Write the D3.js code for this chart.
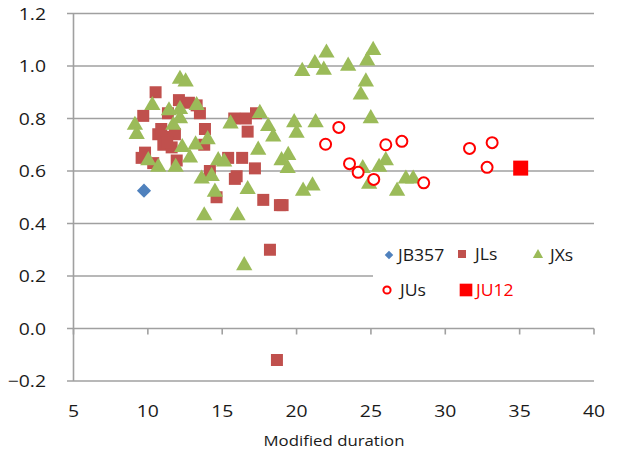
<!DOCTYPE html>
<html><head><meta charset="utf-8">
<script src="https://cdn.jsdelivr.net/npm/d3@7"></script>
<style>body{margin:0;background:#fff}svg text{font-family:"Open Sans",Lato,sans-serif}</style>
</head><body><svg id="c" width="619" height="458"></svg>
<script>
const xTicks = [5,10,15,20,25,30,35,40];
const yTicks = [-0.2,0,0.2,0.4,0.6,0.8,1.0,1.2];
const xTitle = "Modified duration";

const JB357 = [[9.74,0.525]];
const JLs = [[10.52,0.90],[12.09,0.87],[12.76,0.86],[13.28,0.85],[9.69,0.81],[11.35,0.82],[10.70,0.74],[11.26,0.73],[11.82,0.74],[11.04,0.70],[11.60,0.69],[9.81,0.67],[9.58,0.65],[10.36,0.63],[11.94,0.64],[10.9,0.76],[11.3,0.71],[13.50,0.82],[13.84,0.76],[13.79,0.70],[15.81,0.80],[16.59,0.80],[17.27,0.82],[16.71,0.75],[15.40,0.65],[16.34,0.65],[17.20,0.61],[15.97,0.58],[15.85,0.57],[14.17,0.60],[14.62,0.50],[17.76,0.49],[18.88,0.47],[19.06,0.47],[18.21,0.30],[18.68,-0.12]];
const JXs = [[20.38,0.98],[21.23,1.01],[22.01,1.05],[21.83,0.985],[23.47,1.0],[25.15,1.06],[24.75,1.02],[24.66,0.94],[24.32,0.89],[21.28,0.785],[19.84,0.785],[20.0,0.745],[24.99,0.80],[26.0,0.64],[25.55,0.615],[24.45,0.61],[24.88,0.55],[20.44,0.524],[21.07,0.544],[26.76,0.524],[27.35,0.57],[27.84,0.57],[18.99,0.64],[19.44,0.66],[19.40,0.61],[13.28,0.85],[15.56,0.78],[17.53,0.82],[18.09,0.77],[18.43,0.73],[13.21,0.70],[14.02,0.72],[12.83,0.65],[17.42,0.68],[14.73,0.64],[15.13,0.635],[13.62,0.57],[14.29,0.58],[14.51,0.52],[16.71,0.53],[13.79,0.43],[16.03,0.43],[16.48,0.24],[12.16,0.95],[12.54,0.94],[10.30,0.85],[11.42,0.83],[12.16,0.835],[9.13,0.775],[9.25,0.74],[11.71,0.775],[12.16,0.80],[12.31,0.69],[10.03,0.64],[10.70,0.615],[11.87,0.615]];
const JUs = [[22.84,0.766],[21.95,0.702],[23.56,0.628],[24.14,0.595],[25.19,0.568],[26.0,0.700],[27.08,0.713],[28.55,0.555],[31.63,0.686],[33.15,0.708],[32.81,0.614]];
const JU12 = [[35.07,0.611]];
const legendNames = ["JB357","JLs","JXs","JUs","JU12"];

const svg = d3.select("#c");
const x = d3.scaleLinear().domain([5,40]).range([73.5,594]);
const y = d3.scaleLinear().domain([-0.2,1.2]).range([381,13.5]);
const grid = "#a0a0a0";
const SX = 1.14;

svg.append("g").selectAll("line").data(yTicks).join("line")
  .attr("x1",67).attr("x2",594).attr("y1",d=>y(d)).attr("y2",d=>y(d))
  .attr("stroke",grid).attr("stroke-width",1.6);
svg.append("line").attr("x1",x(5)).attr("x2",x(5)).attr("y1",y(1.2)).attr("y2",y(-0.2)).attr("stroke",grid).attr("stroke-width",1.6);
svg.append("g").selectAll("line").data(xTicks).join("line")
  .attr("x1",d=>x(d)).attr("x2",d=>x(d)).attr("y1",y(0)).attr("y2",y(0)+6)
  .attr("stroke",grid).attr("stroke-width",1.6);

svg.append("g").selectAll("text").data(yTicks).join("text")
  .attr("transform",d=>`translate(46,${y(d)}) scale(${SX},1)`).attr("dy","0.36em").attr("text-anchor","end")
  .attr("font-size",17).attr("fill","#1a1a1a").text(d=>d3.format(".1f")(d));
svg.append("g").selectAll("text").data(xTicks).join("text")
  .attr("transform",d=>`translate(${x(d)},411) scale(${SX},1)`).attr("dy","0.36em").attr("text-anchor","middle")
  .attr("font-size",17).attr("fill","#1a1a1a").text(d=>d);
svg.append("text").attr("transform",`translate(334,441) scale(1.12,1)`).attr("dy","0.36em").attr("text-anchor","middle")
  .attr("font-size",15).attr("fill","#1a1a1a").text(xTitle);

const sym = (type,size)=>d3.symbol().type(type).size(size)();
const g = svg.append("g");
g.selectAll(".jb").data(JB357).join("path")
  .attr("d",sym(d3.symbolSquare,100)).attr("transform",d=>`translate(${x(d[0])},${y(d[1])}) rotate(45)`).attr("fill","#4F81BD");
g.selectAll(".jl").data(JLs).join("path")
  .attr("d",sym(d3.symbolSquare,144)).attr("transform",d=>`translate(${x(d[0])},${y(d[1])})`).attr("fill","#C0504D");
g.selectAll(".jx").data(JXs).join("path")
  .attr("d",sym(d3.symbolTriangle,115)).attr("transform",d=>`translate(${x(d[0])},${y(d[1])})`).attr("fill","#9BBB59");
g.selectAll(".ju").data(JUs).join("circle")
  .attr("cx",d=>x(d[0])).attr("cy",d=>y(d[1])).attr("r",5.5).attr("fill","#fff").attr("stroke","#FF0000").attr("stroke-width",2);
g.selectAll(".ju12").data(JU12).join("path")
  .attr("d",sym(d3.symbolSquare,225)).attr("transform",d=>`translate(${x(d[0])},${y(d[1])})`).attr("fill","#FF0000");

const lg = svg.append("g");
lg.append("rect").attr("x",373).attr("y",236).attr("width",230).attr("height",70).attr("fill","#fff");
const items = [
  {n:legendNames[0],mx:389,my:255,tx:398,col:"#1a1a1a",draw:s=>s.append("path").attr("d",sym(d3.symbolSquare,36)).attr("transform","rotate(45)").attr("fill","#4F81BD")},
  {n:legendNames[1],mx:462,my:254,tx:475,col:"#1a1a1a",draw:s=>s.append("path").attr("d",sym(d3.symbolSquare,64)).attr("fill","#C0504D")},
  {n:legendNames[2],mx:538,my:255,tx:550,col:"#1a1a1a",draw:s=>s.append("path").attr("d",sym(d3.symbolTriangle,45)).attr("fill","#9BBB59")},
  {n:legendNames[3],mx:387,my:290,tx:400,col:"#1a1a1a",draw:s=>s.append("circle").attr("r",3.6).attr("fill","#fff").attr("stroke","#FF0000").attr("stroke-width",2)},
  {n:legendNames[4],mx:466,my:290,tx:476,col:"#FF0000",draw:s=>s.append("path").attr("d",sym(d3.symbolSquare,160)).attr("fill","#FF0000")}
];
items.forEach(it=>{
  const s = lg.append("g").attr("transform",`translate(${it.mx},${it.my})`);
  it.draw(s);
  lg.append("text").attr("transform",`translate(${it.tx},${it.my}) scale(1.1,1)`).attr("dy","0.36em").attr("font-size",16).attr("fill",it.col).text(it.n);
});
</script></body></html>
